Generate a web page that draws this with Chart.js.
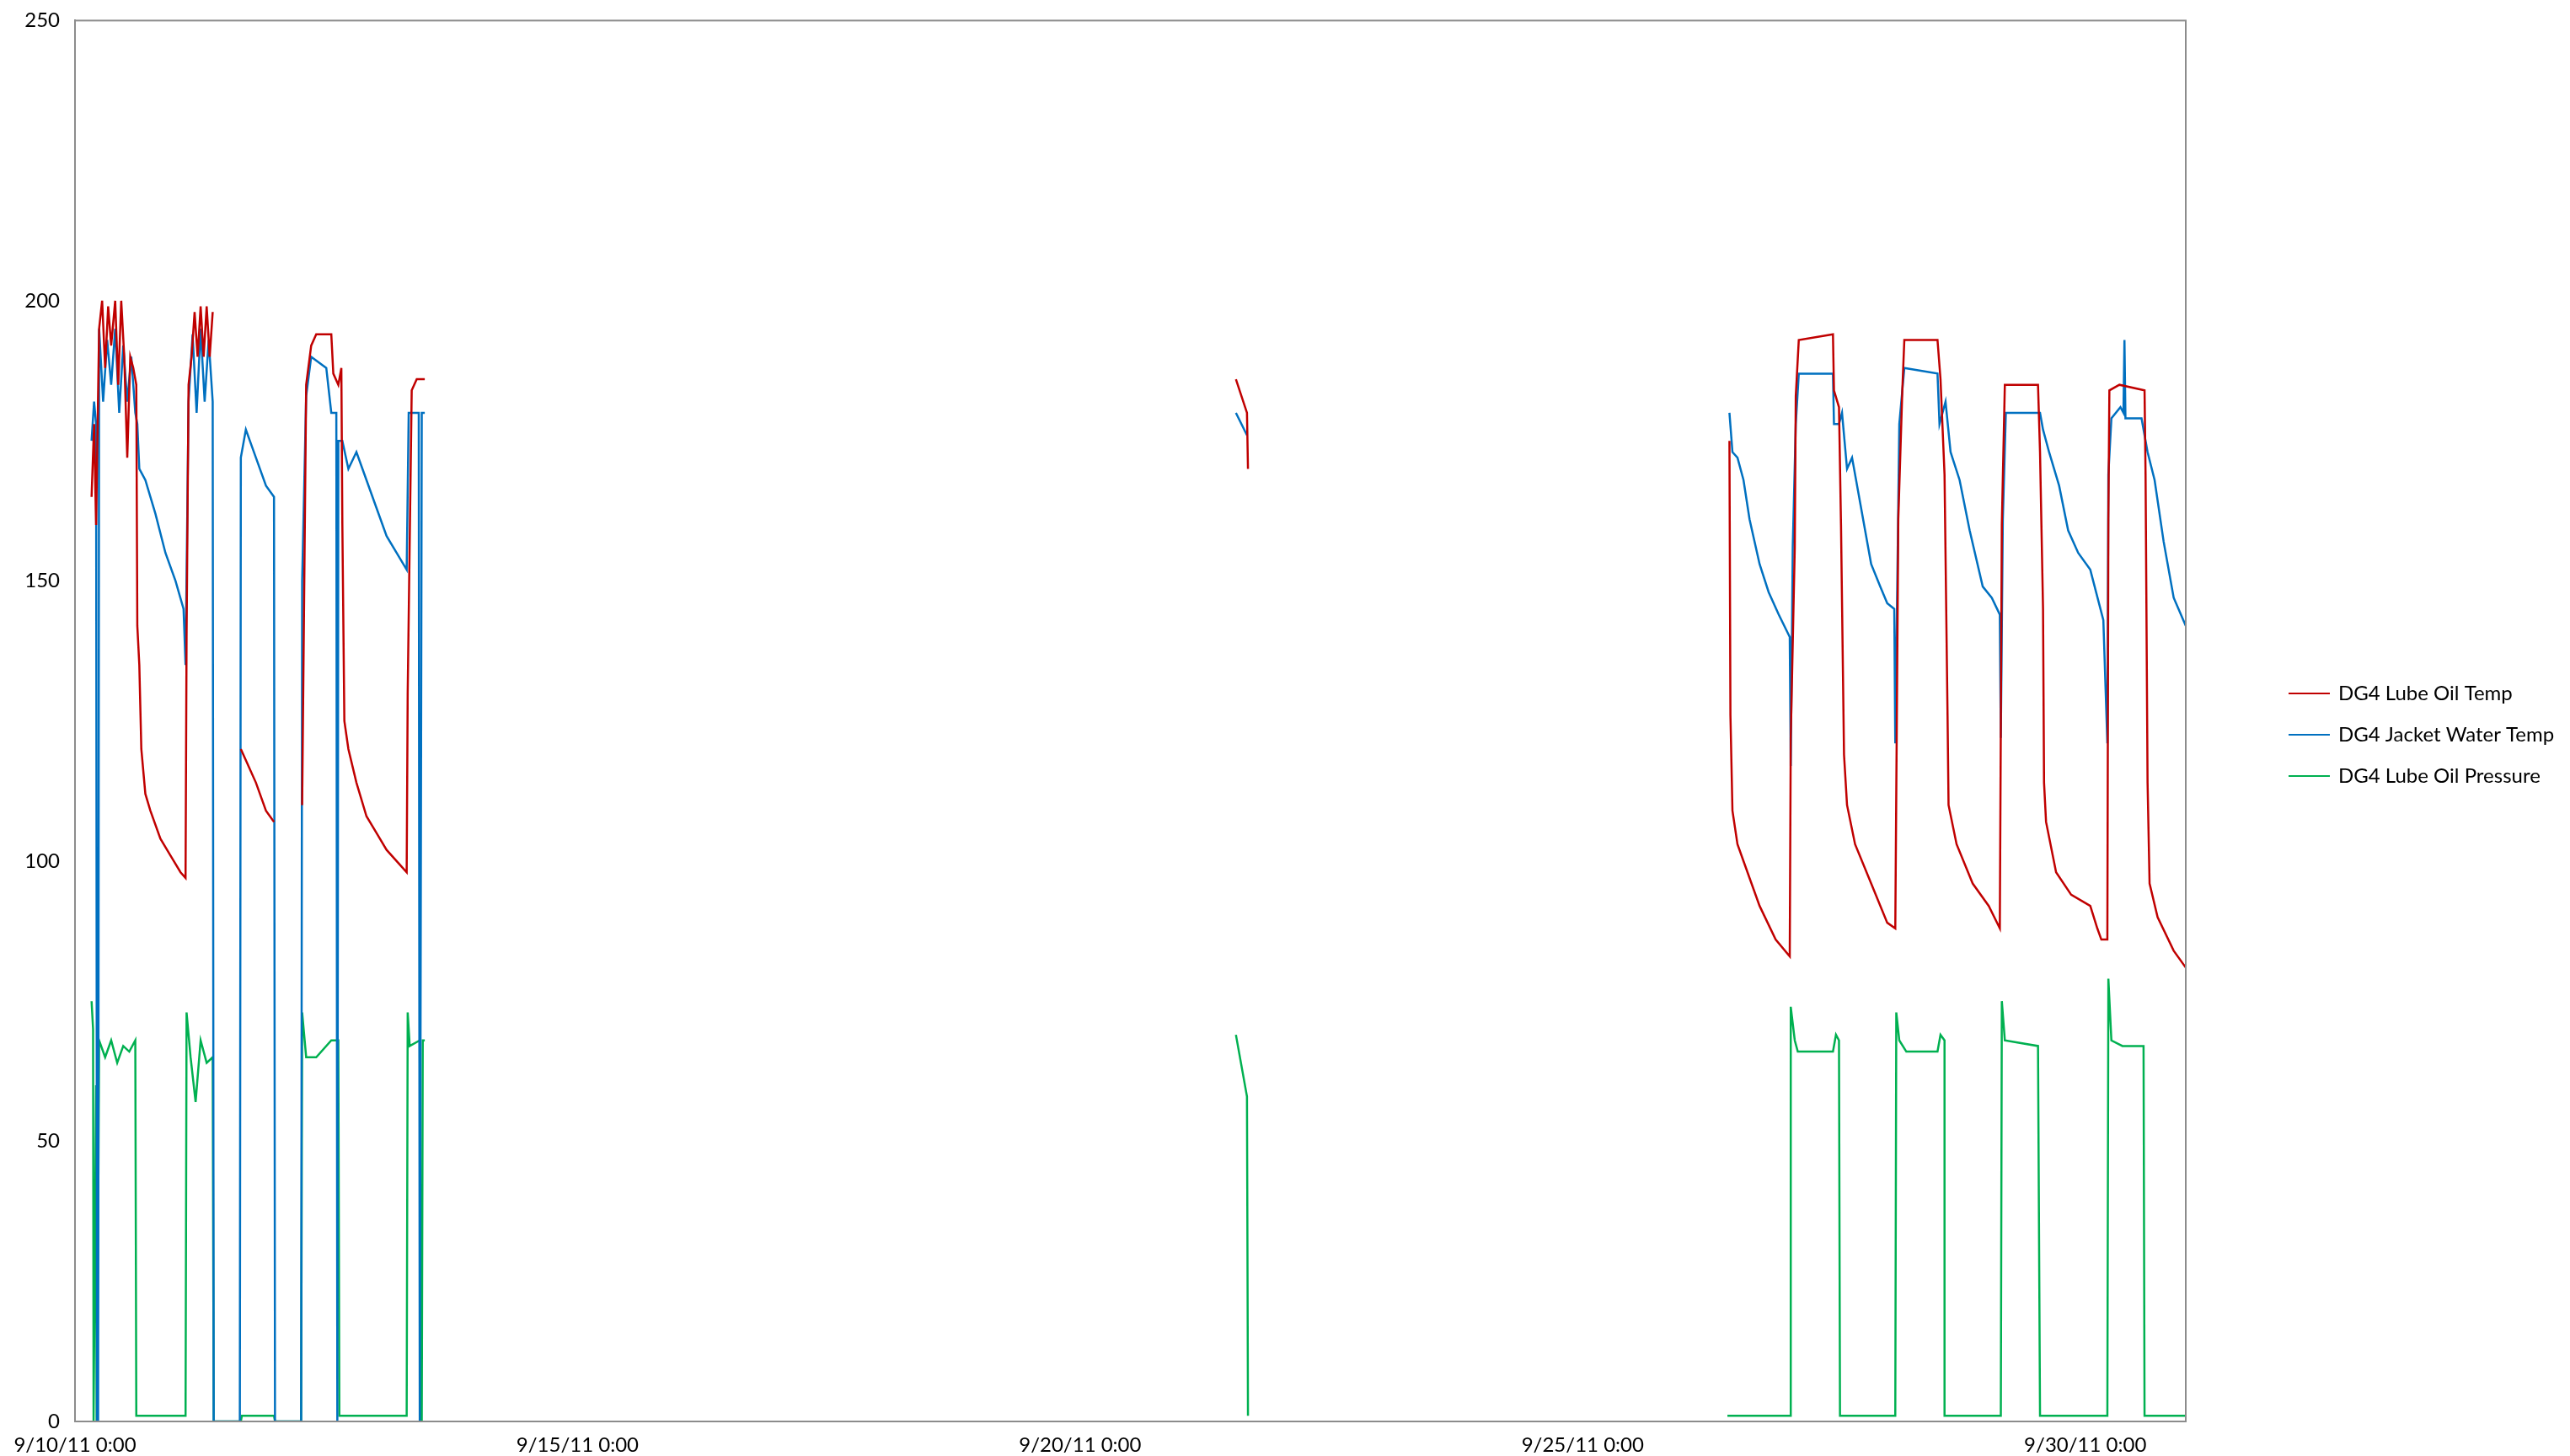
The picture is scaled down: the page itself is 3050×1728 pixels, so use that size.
<!DOCTYPE html>
<html>
<head>
<meta charset="utf-8">
<script src="https://cdn.jsdelivr.net/npm/chart.js@4.4.0/dist/chart.umd.min.js"></script>
<style>
  html, body { margin:0; padding:0; background:#fff; }
  #wrap { width:3050px; height:1728px; }
</style>
</head>
<body>
<div id="wrap"><canvas id="c"></canvas></div>
<script>
// time in days since 9/10/11 0:00, null = gap in logging
const xTickDays = [0, 5, 10, 15, 20];
const xTickLabels = ['9/10/11 0:00', '9/15/11 0:00', '9/20/11 0:00', '9/25/11 0:00', '9/30/11 0:00'];

const oilTempT = [0.165,0.19,0.21,0.24,0.27,0.30,0.33,0.36,0.40,0.43,0.46,0.49,0.52,0.55,0.58,0.61,0.62,0.64,0.66,0.70,0.75,0.85,0.95,1.05,1.10,1.11,1.13,1.16,1.19,1.22,1.25,1.28,1.31,1.34,1.37,1.50,
  1.65,1.70,1.80,1.90,1.98,2.10,
  2.26,2.30,2.35,2.40,2.55,2.57,2.62,2.65,2.66,2.68,2.72,2.80,2.90,3.00,3.10,3.25,3.30,3.31,3.35,3.40,3.48,7.0,
  11.55,11.66,11.67,14.0,
  16.46,16.47,16.49,16.54,16.60,16.76,16.92,17.06,17.07,17.11,17.12,17.15,17.49,17.50,17.55,17.57,17.60,17.63,17.71,17.87,18.03,18.11,
  18.14,18.18,18.20,18.53,18.56,18.60,18.63,18.64,18.72,18.88,19.04,19.15,19.17,19.20,19.53,19.55,19.58,19.59,19.61,19.71,19.86,20.05,20.12,20.16,20.22,
  20.23,20.24,20.34,20.59,20.60,20.62,20.64,20.72,20.88,21.0];
const oilTemp = [165,178,160,195,200,188,199,192,200,185,200,190,172,190,188,185,142,135,120,112,109,104,101,98,97,140,185,190,198,190,199,190,199,190,198,null,
  120,118,114,109,107,null,
  110,185,192,194,194,187,185,188,160,125,120,114,108,105,102,99,98,130,184,186,186,null,
  186,180,170,null,
  175,126,109,103,100,92,86,83,122,156,183,193,194,184,181,160,119,110,103,96,89,88,
  161,184,193,193,186,169,126,110,103,96,92,88,160,185,185,173,145,114,107,98,94,92,88,86,86,
  161,184,185,184,169,114,96,90,84,81];

const jacketT = [0.165,0.19,0.21,0.22,0.23,0.24,0.28,0.32,0.36,0.40,0.44,0.48,0.52,0.56,0.60,0.62,0.64,0.70,0.80,0.90,1.00,1.08,1.10,1.13,1.17,1.21,1.25,1.29,1.33,1.37,1.38,1.64,
  1.65,1.70,1.80,1.90,1.98,1.99,2.25,2.26,2.30,2.35,2.50,2.55,2.60,2.61,2.62,2.66,2.72,2.80,2.90,3.00,3.10,3.20,3.30,3.32,3.42,3.43,3.45,3.48,7.0,
  11.55,11.66,14.0,
  16.46,16.49,16.54,16.60,16.66,16.76,16.85,16.95,17.06,17.07,17.09,17.12,17.15,17.49,17.50,17.55,17.58,17.63,17.68,17.77,17.87,17.96,18.03,18.10,
  18.11,18.15,18.20,18.53,18.55,18.61,18.66,18.75,18.85,18.98,19.07,19.15,19.16,19.18,19.21,19.55,19.58,19.64,19.74,19.83,19.93,20.05,20.18,20.22,
  20.23,20.26,20.35,20.38,20.39,20.40,20.56,20.62,20.69,20.78,20.88,21.0];
const jacketTemp = [175,182,178,0,0,195,182,193,185,195,180,192,182,190,180,178,170,168,162,155,150,145,135,182,194,180,195,182,193,182,0,0,
  172,177,172,167,165,0,0,150,183,190,188,180,180,0,175,175,170,173,168,163,158,155,152,180,180,0,180,180,null,
  180,176,null,
  180,173,172,168,161,153,148,144,140,117,156,178,187,187,178,178,180,170,172,163,153,149,146,145,
  121,178,188,187,178,182,173,168,159,149,147,144,122,161,180,180,177,173,167,159,155,152,143,121,
  169,179,181,180,193,179,179,173,168,157,147,142];

const pressureT = [0.165,0.18,0.185,0.19,0.21,0.215,0.22,0.24,0.30,0.36,0.42,0.48,0.54,0.60,0.61,1.10,1.11,1.15,1.20,1.25,1.31,1.37,1.38,1.65,1.66,1.98,1.99,2.25,
  2.26,2.30,2.40,2.55,2.62,2.63,3.30,3.31,3.33,3.43,3.44,3.45,3.46,3.48,7.0,
  11.55,11.66,11.67,14.0,
  16.44,17.07,17.07,17.11,17.14,17.49,17.52,17.55,17.56,18.11,18.12,18.15,18.22,18.53,18.56,18.60,18.60,19.16,19.17,19.20,19.53,19.55,20.22,20.23,20.26,20.37,20.58,20.59,21.0];
const pressure = [75,70,0,0,60,0,0,68,65,68,64,67,66,68,1,1,73,65,57,68,64,65,0,0,1,1,0,0,
  73,65,65,68,68,1,1,73,67,68,0,0,68,68,null,
  69,58,1,null,
  1,1,74,68,66,66,69,68,1,1,73,68,66,66,69,68,1,1,75,68,67,1,1,79,68,67,67,1,1];

const seriesNames = ['DG4 Lube Oil Temp', 'DG4 Jacket Water Temp', 'DG4 Lube Oil Pressure'];
const seriesColors = ['#C00000', '#0070C0', '#00B050'];

const pts = (t, v) => t.map((d, i) => ({ x: d, y: v[i] }));

const frame = {
  id: 'frame',
  afterDraw(chart) {
    const { ctx, chartArea: a } = chart;
    ctx.save();
    ctx.strokeStyle = '#8c8c8c';
    ctx.lineWidth = 2;
    ctx.strokeRect(a.left, a.top, a.right - a.left, a.bottom - a.top);
    // legend
    ctx.font = '24px Lato';
    ctx.fillStyle = '#000';
    ctx.textBaseline = 'middle';
    chart.data.datasets.forEach((ds, i) => {
      const y = 823 + i * 49;
      ctx.strokeStyle = ds.borderColor;
      ctx.lineWidth = 2;
      ctx.beginPath(); ctx.moveTo(2716, y); ctx.lineTo(2765, y); ctx.stroke();
      ctx.fillText(ds.label, 2775, y);
    });
    ctx.restore();
  }
};

new Chart(document.getElementById('c'), {
  type: 'line',
  data: {
    datasets: [
      { label: seriesNames[0], data: pts(oilTempT, oilTemp), borderColor: seriesColors[0] },
      { label: seriesNames[1], data: pts(jacketT, jacketTemp), borderColor: seriesColors[1] },
      { label: seriesNames[2], data: pts(pressureT, pressure), borderColor: seriesColors[2] }
    ]
  },
  options: {
    responsive: true, maintainAspectRatio: false, animation: false, devicePixelRatio: 1,
    spanGaps: false,
    elements: { point: { radius: 0 }, line: { borderWidth: 2.5, tension: 0 } },
    layout: { padding: { top: 16, right: 456, left: 0, bottom: 0 } },
    plugins: { legend: { display: false }, tooltip: { enabled: false } },
    scales: {
      x: {
        type: 'linear', min: 0, max: 21,
        grid: { display: false, drawTicks: true },
        border: { color: '#8c8c8c', width: 2 },
        afterBuildTicks: s => { s.ticks = xTickDays.map(v => ({ value: v })); },
        afterFit: s => { s.height = 41; },
        ticks: { color: '#000', font: { family: 'Lato', size: 24 }, padding: 6, maxRotation: 0,
          callback: v => xTickLabels[xTickDays.indexOf(v)] }
      },
      y: {
        min: 0, max: 250,
        grid: { display: false },
        border: { color: '#8c8c8c', width: 2 },
        afterFit: s => { s.width = 89; },
        ticks: { stepSize: 50, color: '#000', font: { family: 'Lato', size: 24 }, padding: 10 }
      }
    }
  },
  plugins: [frame]
});
</script>
</body>
</html>
